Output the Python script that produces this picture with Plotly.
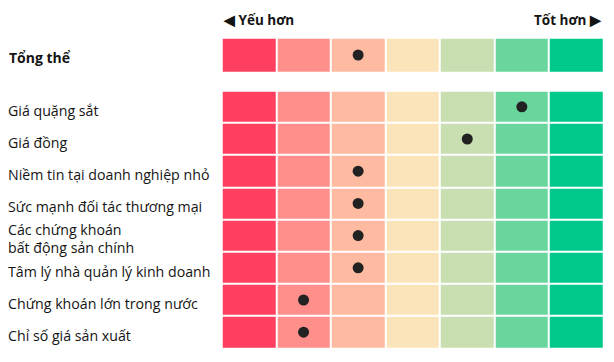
import plotly.graph_objects as go

# ---- data ----
scale_colors = ["#FF3F60", "#FF8F8A", "#FFBBA1", "#FCE4BA", "#C9DFB1", "#69D69E", "#00C98B"]
n_levels = len(scale_colors)
levels = list(range(1, n_levels + 1))

overall_label = "Tổng thể"
overall_value = 3

indicators = [
    "Giá quặng sắt",
    "Giá đồng",
    "Niềm tin tại doanh nghiệp nhỏ",
    "Sức mạnh đối tác thương mại",
    "Các chứng khoán<br>bất động sản chính",
    "Tâm lý nhà quản lý kinh doanh",
    "Chứng khoán lớn trong nước",
    "Chỉ số giá sản xuất",
]
indicator_values = [6, 5, 3, 3, 3, 3, 2, 2]

left_label = "◀ Yếu hơn"
right_label = "Tốt hơn ▶"

# ---- figure ----
W, H = 614, 362
FONT = "Open Sans"
TXT = "#141414"

def px_x(p):
    return p / W

def px_y(p):
    return 1 - p / H

# discrete colorscale
cs = []
for i, c in enumerate(scale_colors):
    cs.append([i / n_levels, c])
    cs.append([(i + 1) / n_levels, c])

fig = go.Figure()

# overall row heatmap
fig.add_trace(go.Heatmap(
    z=[levels], x=levels, y=[0],
    colorscale=cs, zmin=0.5, zmax=n_levels + 0.5,
    showscale=False, xgap=2, ygap=2, hoverinfo="skip",
    xaxis="x", yaxis="y",
))
fig.add_trace(go.Scatter(
    x=[overall_value], y=[0], mode="markers",
    marker=dict(color="#222222", size=11),
    xaxis="x", yaxis="y", showlegend=False, hoverinfo="skip",
))

# indicator rows heatmap
rows = list(range(len(indicators)))
fig.add_trace(go.Heatmap(
    z=[levels for _ in rows], x=levels, y=rows,
    colorscale=cs, zmin=0.5, zmax=n_levels + 0.5,
    showscale=False, xgap=2, ygap=2, hoverinfo="skip",
    xaxis="x2", yaxis="y2",
))
fig.add_trace(go.Scatter(
    x=indicator_values, y=rows, mode="markers",
    marker=dict(color="#222222", size=11),
    xaxis="x2", yaxis="y2", showlegend=False, hoverinfo="skip",
))

xdom = [px_x(221.7), px_x(603.7)]
axis_common = dict(showgrid=False, zeroline=False, showticklabels=False, ticks="", showline=False)

annotations = []
annotations.append(dict(
    text=overall_label, xref="paper", yref="y", x=px_x(7), y=0.08,
    xanchor="left", yanchor="middle", showarrow=False,
    font=dict(family=FONT, size=14, color=TXT, weight="bold"),
))
for r, lab in zip(rows, indicators):
    annotations.append(dict(
        text=lab, xref="paper", yref="y2", x=px_x(6), y=r + 0.1,
        xanchor="left", yanchor="middle", showarrow=False, align="left",
        font=dict(family=FONT, size=14.2, color=TXT),
    ))
annotations.append(dict(
    text=left_label, xref="paper", yref="paper", x=px_x(221), y=px_y(20),
    xanchor="left", yanchor="middle", showarrow=False,
    font=dict(family=FONT, size=13.5, color=TXT, weight="bold"),
))
annotations.append(dict(
    text=right_label, xref="paper", yref="paper", x=px_x(604), y=px_y(20),
    xanchor="right", yanchor="middle", showarrow=False,
    font=dict(family=FONT, size=13.5, color=TXT, weight="bold"),
))

fig.update_layout(
    width=W, height=H,
    margin=dict(l=0, r=0, t=0, b=0),
    paper_bgcolor="white", plot_bgcolor="white",
    showlegend=False,
    xaxis=dict(domain=xdom, range=[0.5, n_levels + 0.5], anchor="y", **axis_common),
    yaxis=dict(domain=[px_y(72.3), px_y(37.7)], range=[0.5, -0.5], anchor="x", **axis_common),
    xaxis2=dict(domain=xdom, range=[0.5, n_levels + 0.5], anchor="y2", **axis_common),
    yaxis2=dict(domain=[px_y(348.3), px_y(90.7)], range=[len(indicators) - 0.5, -0.5], anchor="x2", **axis_common),
    annotations=annotations,
)

fig.write_html("out.html")
